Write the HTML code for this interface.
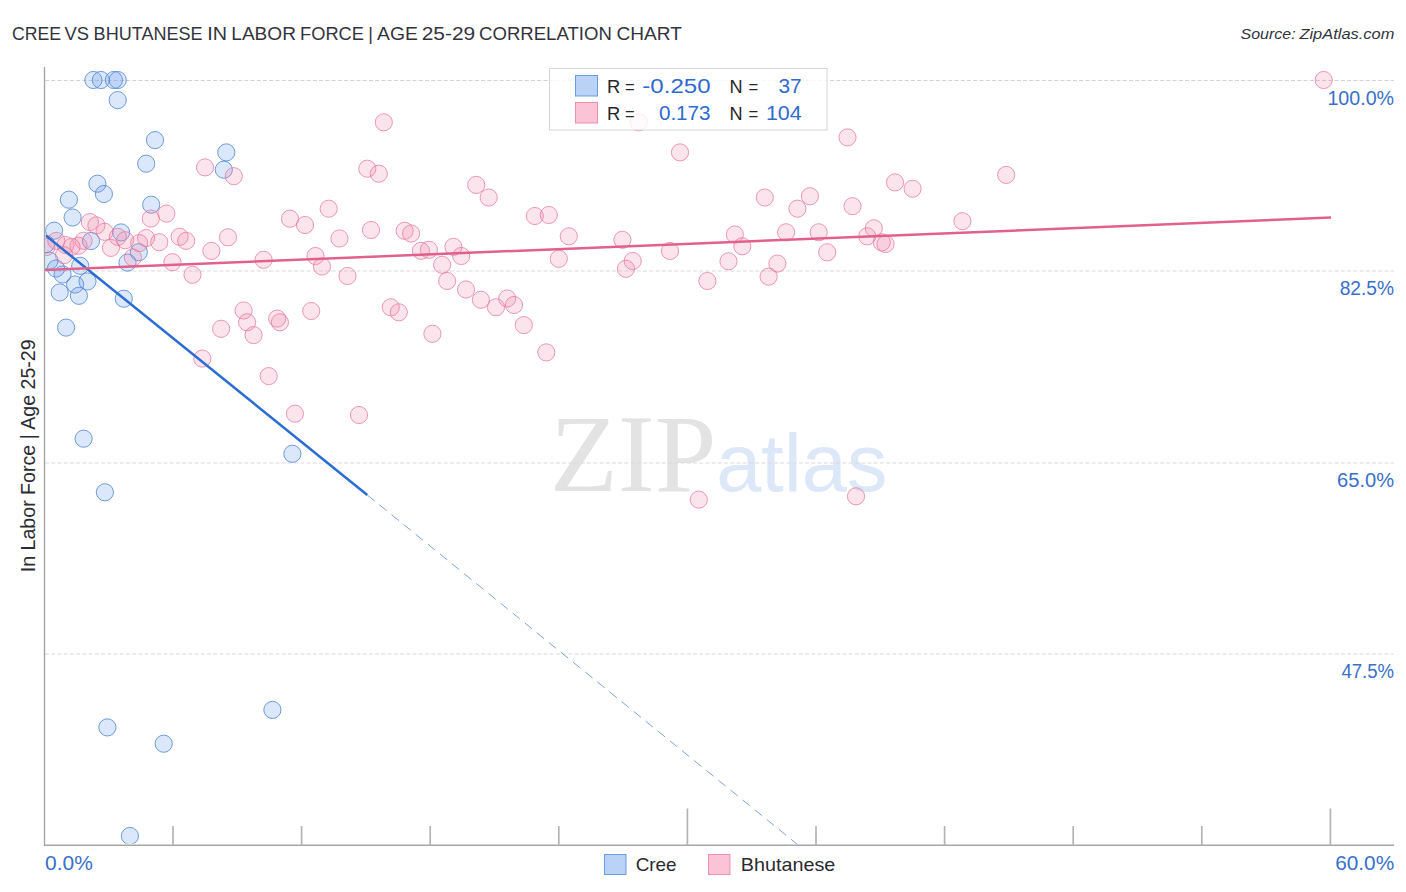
<!DOCTYPE html>
<html><head><meta charset="utf-8"><title>Cree vs Bhutanese In Labor Force | Age 25-29 Correlation Chart</title>
<style>
html,body{margin:0;padding:0;background:#fff;}
body{width:1406px;height:892px;overflow:hidden;font-family:"Liberation Sans",sans-serif;}
svg{display:block;}
text{font-family:"Liberation Sans",sans-serif;}
.ser{font-family:"Liberation Serif",serif;}
.b{fill:rgba(100,150,235,0.23);stroke:#4f84d6;stroke-opacity:.8;stroke-width:1;}
.p{fill:rgba(240,130,170,0.22);stroke:#e5759b;stroke-opacity:.72;stroke-width:1;}
.ax{stroke:#a6a6a6;stroke-width:1.4;fill:none;}
.gr{stroke:#d2d2d2;stroke-width:1;stroke-dasharray:4 2.23;fill:none;}
.yl{fill:#3a6fc9;font-size:19.5px;}
</style></head><body>
<svg width="1406" height="892" viewBox="0 0 1406 892">
<defs><clipPath id="pc"><rect x="45.2" y="60" width="1349" height="783.8"/></clipPath></defs>
<rect width="1406" height="892" fill="#fff"/>
<text x="12.0" y="40" font-size="18" fill="#33333d" textLength="49.1" lengthAdjust="spacingAndGlyphs">CREE</text>
<text x="64.6" y="40" font-size="18" fill="#33333d" textLength="24.5" lengthAdjust="spacingAndGlyphs">VS</text>
<text x="93.6" y="40" font-size="18" fill="#33333d" textLength="109.0" lengthAdjust="spacingAndGlyphs">BHUTANESE</text>
<text x="207.3" y="40" font-size="18" fill="#33333d" textLength="19.8" lengthAdjust="spacingAndGlyphs">IN</text>
<text x="231.3" y="40" font-size="18" fill="#33333d" textLength="64.6" lengthAdjust="spacingAndGlyphs">LABOR</text>
<text x="300.1" y="40" font-size="18" fill="#33333d" textLength="63.8" lengthAdjust="spacingAndGlyphs">FORCE</text>
<text x="368.3" y="39.5" font-size="18" fill="#33333d">|</text>
<text x="377.1" y="40" font-size="18" fill="#33333d" textLength="40.8" lengthAdjust="spacingAndGlyphs">AGE</text>
<text x="421.7" y="40" font-size="18" fill="#33333d" textLength="53.6" lengthAdjust="spacingAndGlyphs">25-29</text>
<text x="479.1" y="40" font-size="18" fill="#33333d" textLength="132.7" lengthAdjust="spacingAndGlyphs">CORRELATION</text>
<text x="616.5" y="40" font-size="18" fill="#33333d" textLength="65.3" lengthAdjust="spacingAndGlyphs">CHART</text>
<text x="1240.6" y="39" font-size="15.3" fill="#33333d" font-style="italic" textLength="55" lengthAdjust="spacingAndGlyphs">Source:</text>
<text x="1299.4" y="39" font-size="15.3" fill="#33333d" font-style="italic" textLength="95" lengthAdjust="spacingAndGlyphs">ZipAtlas.com</text>
<text class="ser" id="wzip" x="550" y="490.8" font-size="111" fill="#e3e3e3">ZIP</text>
<text id="watl" x="716.3" y="490.6" font-size="81" fill="#dce7f8">atlas</text>
<line class="gr" x1="45" x2="1394" y1="80.5" y2="80.5"/>
<line class="gr" x1="45" x2="1394" y1="271.0" y2="271.0" style="stroke:#dadada"/>
<line class="gr" x1="45" x2="1394" y1="463.0" y2="463.0" style="stroke:#dadada"/>
<line class="gr" x1="45" x2="1394" y1="654.0" y2="654.0" style="stroke:#dadada"/>
<g clip-path="url(#pc)">
<circle class="b" cx="93.4" cy="80" r="8.6"/>
<circle class="b" cx="100.9" cy="80" r="8.6"/>
<circle class="b" cx="113.9" cy="80" r="8.6"/>
<circle class="b" cx="117.7" cy="80" r="8.6"/>
<circle class="b" cx="117.7" cy="100.1" r="8.6"/>
<circle class="b" cx="155" cy="140.1" r="8.6"/>
<circle class="b" cx="146.2" cy="163.7" r="8.6"/>
<circle class="b" cx="226.3" cy="152.4" r="8.6"/>
<circle class="b" cx="223.8" cy="169.7" r="8.6"/>
<circle class="b" cx="97.4" cy="183.7" r="8.6"/>
<circle class="b" cx="103.9" cy="194" r="8.6"/>
<circle class="b" cx="68.9" cy="199.7" r="8.6"/>
<circle class="b" cx="72.6" cy="217.5" r="8.6"/>
<circle class="b" cx="151.2" cy="204.7" r="8.6"/>
<circle class="b" cx="54.1" cy="230.7" r="8.6"/>
<circle class="b" cx="121.1" cy="232.4" r="8.6"/>
<circle class="b" cx="91" cy="241" r="8.6"/>
<circle class="b" cx="138.8" cy="252.2" r="8.6"/>
<circle class="b" cx="127.5" cy="262.6" r="8.6"/>
<circle class="b" cx="80.2" cy="265.8" r="8.6"/>
<circle class="b" cx="46" cy="244" r="8.6"/>
<circle class="b" cx="49.5" cy="260.8" r="8.6"/>
<circle class="b" cx="56" cy="268.5" r="8.6"/>
<circle class="b" cx="62.6" cy="274.5" r="8.6"/>
<circle class="b" cx="75.1" cy="284.5" r="8.6"/>
<circle class="b" cx="87.5" cy="281.4" r="8.6"/>
<circle class="b" cx="59.7" cy="292.4" r="8.6"/>
<circle class="b" cx="78.9" cy="295.8" r="8.6"/>
<circle class="b" cx="123.8" cy="298.7" r="8.6"/>
<circle class="b" cx="66.1" cy="327.6" r="8.6"/>
<circle class="b" cx="83.6" cy="438.7" r="8.6"/>
<circle class="b" cx="104.9" cy="492.3" r="8.6"/>
<circle class="b" cx="292.4" cy="453.8" r="8.6"/>
<circle class="b" cx="107.4" cy="727.4" r="8.6"/>
<circle class="b" cx="163.7" cy="743.7" r="8.6"/>
<circle class="b" cx="272.4" cy="709.9" r="8.6"/>
<circle class="b" cx="129.9" cy="836" r="8.6"/>
<circle class="p" cx="205" cy="167.4" r="8.6"/>
<circle class="p" cx="233.8" cy="176.2" r="8.6"/>
<circle class="p" cx="328.7" cy="208.7" r="8.6"/>
<circle class="p" cx="290" cy="218.7" r="8.6"/>
<circle class="p" cx="305" cy="225" r="8.6"/>
<circle class="p" cx="166.4" cy="213.6" r="8.6"/>
<circle class="p" cx="150.8" cy="218.6" r="8.6"/>
<circle class="p" cx="89.9" cy="222" r="8.6"/>
<circle class="p" cx="96.4" cy="225.4" r="8.6"/>
<circle class="p" cx="104.6" cy="231.8" r="8.6"/>
<circle class="p" cx="117.8" cy="236.9" r="8.6"/>
<circle class="p" cx="125.2" cy="240.2" r="8.6"/>
<circle class="p" cx="146.1" cy="238.1" r="8.6"/>
<circle class="p" cx="139.2" cy="243.1" r="8.6"/>
<circle class="p" cx="159.3" cy="242.2" r="8.6"/>
<circle class="p" cx="179.6" cy="236.8" r="8.6"/>
<circle class="p" cx="186.2" cy="240.9" r="8.6"/>
<circle class="p" cx="211.4" cy="250.9" r="8.6"/>
<circle class="p" cx="172.4" cy="262.2" r="8.6"/>
<circle class="p" cx="192.5" cy="274.8" r="8.6"/>
<circle class="p" cx="110.9" cy="247.9" r="8.6"/>
<circle class="p" cx="132.9" cy="257.5" r="8.6"/>
<circle class="p" cx="83.6" cy="240.8" r="8.6"/>
<circle class="p" cx="78.5" cy="245.8" r="8.6"/>
<circle class="p" cx="65.5" cy="245" r="8.6"/>
<circle class="p" cx="56.3" cy="240.9" r="8.6"/>
<circle class="p" cx="46.5" cy="247" r="8.6"/>
<circle class="p" cx="64" cy="255.2" r="8.6"/>
<circle class="p" cx="71.5" cy="247" r="8.6"/>
<circle class="p" cx="228" cy="237.3" r="8.6"/>
<circle class="p" cx="263.6" cy="259.8" r="8.6"/>
<circle class="p" cx="315.5" cy="256" r="8.6"/>
<circle class="p" cx="322" cy="266.5" r="8.6"/>
<circle class="p" cx="339.5" cy="238.5" r="8.6"/>
<circle class="p" cx="347.5" cy="276" r="8.6"/>
<circle class="p" cx="383.8" cy="122.3" r="8.6"/>
<circle class="p" cx="367.3" cy="168.7" r="8.6"/>
<circle class="p" cx="378.8" cy="173.7" r="8.6"/>
<circle class="p" cx="476.2" cy="184.9" r="8.6"/>
<circle class="p" cx="488.7" cy="197.5" r="8.6"/>
<circle class="p" cx="534.8" cy="216" r="8.6"/>
<circle class="p" cx="548.8" cy="215" r="8.6"/>
<circle class="p" cx="371" cy="230" r="8.6"/>
<circle class="p" cx="404.6" cy="230.8" r="8.6"/>
<circle class="p" cx="411.1" cy="233.5" r="8.6"/>
<circle class="p" cx="568.8" cy="236.3" r="8.6"/>
<circle class="p" cx="622.4" cy="239.8" r="8.6"/>
<circle class="p" cx="453.4" cy="246.8" r="8.6"/>
<circle class="p" cx="420.9" cy="250.8" r="8.6"/>
<circle class="p" cx="428.9" cy="249.8" r="8.6"/>
<circle class="p" cx="461.2" cy="256" r="8.6"/>
<circle class="p" cx="670" cy="251" r="8.6"/>
<circle class="p" cx="558.8" cy="258.8" r="8.6"/>
<circle class="p" cx="632.7" cy="261" r="8.6"/>
<circle class="p" cx="625.9" cy="268.8" r="8.6"/>
<circle class="p" cx="442.1" cy="264.8" r="8.6"/>
<circle class="p" cx="447.1" cy="281" r="8.6"/>
<circle class="p" cx="466" cy="289.5" r="8.6"/>
<circle class="p" cx="638.7" cy="122.3" r="8.6"/>
<circle class="p" cx="680" cy="152.4" r="8.6"/>
<circle class="p" cx="847.5" cy="137.4" r="8.6"/>
<circle class="p" cx="1006.2" cy="174.9" r="8.6"/>
<circle class="p" cx="895" cy="182.4" r="8.6"/>
<circle class="p" cx="912.6" cy="188.7" r="8.6"/>
<circle class="p" cx="764.8" cy="197.5" r="8.6"/>
<circle class="p" cx="809.9" cy="196.2" r="8.6"/>
<circle class="p" cx="797.4" cy="208.7" r="8.6"/>
<circle class="p" cx="852.5" cy="206.2" r="8.6"/>
<circle class="p" cx="962.4" cy="221.2" r="8.6"/>
<circle class="p" cx="734.8" cy="234.5" r="8.6"/>
<circle class="p" cx="786.1" cy="232.3" r="8.6"/>
<circle class="p" cx="818.7" cy="232.3" r="8.6"/>
<circle class="p" cx="873.8" cy="228.3" r="8.6"/>
<circle class="p" cx="867.2" cy="236.3" r="8.6"/>
<circle class="p" cx="881.8" cy="242.3" r="8.6"/>
<circle class="p" cx="885.5" cy="244" r="8.6"/>
<circle class="p" cx="742.3" cy="246.3" r="8.6"/>
<circle class="p" cx="827.2" cy="252.3" r="8.6"/>
<circle class="p" cx="728.5" cy="261.3" r="8.6"/>
<circle class="p" cx="777.4" cy="263.6" r="8.6"/>
<circle class="p" cx="768.6" cy="276.6" r="8.6"/>
<circle class="p" cx="707.4" cy="281" r="8.6"/>
<circle class="p" cx="1323.7" cy="80" r="8.6"/>
<circle class="p" cx="243.6" cy="310.5" r="8.6"/>
<circle class="p" cx="247.1" cy="322.3" r="8.6"/>
<circle class="p" cx="221.1" cy="328.8" r="8.6"/>
<circle class="p" cx="253.6" cy="335.1" r="8.6"/>
<circle class="p" cx="277.2" cy="318.6" r="8.6"/>
<circle class="p" cx="279.9" cy="322.3" r="8.6"/>
<circle class="p" cx="311.2" cy="311" r="8.6"/>
<circle class="p" cx="202.3" cy="358.6" r="8.6"/>
<circle class="p" cx="268.7" cy="376.1" r="8.6"/>
<circle class="p" cx="294.9" cy="413.7" r="8.6"/>
<circle class="p" cx="390.8" cy="307.3" r="8.6"/>
<circle class="p" cx="398.8" cy="312.3" r="8.6"/>
<circle class="p" cx="432.4" cy="333.8" r="8.6"/>
<circle class="p" cx="480.9" cy="299.8" r="8.6"/>
<circle class="p" cx="496" cy="307.3" r="8.6"/>
<circle class="p" cx="507.2" cy="298.5" r="8.6"/>
<circle class="p" cx="514" cy="305" r="8.6"/>
<circle class="p" cx="523.8" cy="325.1" r="8.6"/>
<circle class="p" cx="546.3" cy="352.4" r="8.6"/>
<circle class="p" cx="359" cy="415" r="8.6"/>
<circle class="p" cx="698.8" cy="499.6" r="8.6"/>
<circle class="p" cx="856" cy="496.3" r="8.6"/>
</g>
<line x1="46.2" y1="235.9" x2="367.3" y2="495" stroke="#2b6dd1" stroke-width="2.5"/>
<line x1="367.3" y1="495" x2="797.5" y2="844.5" stroke="#6d97da" stroke-width="0.9" stroke-dasharray="9.3 6.3"/>
<line x1="45" y1="270.1" x2="1331" y2="217.6" stroke="#e2608e" stroke-width="2.5"/>
<line class="ax" x1="44.5" x2="44.5" y1="67" y2="846"/>
<line class="ax" x1="44" x2="1394" y1="845.3" y2="845.3"/>
<line x1="173.0" x2="173.0" y1="826" y2="845.3" stroke="#b4b4b4" stroke-width="1.7"/>
<line x1="301.6" x2="301.6" y1="826" y2="845.3" stroke="#b4b4b4" stroke-width="1.7"/>
<line x1="430.2" x2="430.2" y1="826" y2="845.3" stroke="#b4b4b4" stroke-width="1.7"/>
<line x1="558.8" x2="558.8" y1="826" y2="845.3" stroke="#b4b4b4" stroke-width="1.7"/>
<line x1="687.4" x2="687.4" y1="808.5" y2="845.3" stroke="#b4b4b4" stroke-width="1.7"/>
<line x1="816.0" x2="816.0" y1="826" y2="845.3" stroke="#b4b4b4" stroke-width="1.7"/>
<line x1="944.6" x2="944.6" y1="826" y2="845.3" stroke="#b4b4b4" stroke-width="1.7"/>
<line x1="1073.2" x2="1073.2" y1="826" y2="845.3" stroke="#b4b4b4" stroke-width="1.7"/>
<line x1="1201.8" x2="1201.8" y1="826" y2="845.3" stroke="#b4b4b4" stroke-width="1.7"/>
<line x1="1330.4" x2="1330.4" y1="808.5" y2="845.3" stroke="#b4b4b4" stroke-width="1.7"/>
<text class="yl" x="1327.4" y="104.6" textLength="66.7" lengthAdjust="spacingAndGlyphs">100.0%</text>
<text class="yl" x="1339.7" y="295.0" textLength="54.4" lengthAdjust="spacingAndGlyphs">82.5%</text>
<text class="yl" x="1337.0" y="486.6" textLength="57.1" lengthAdjust="spacingAndGlyphs">65.0%</text>
<text class="yl" x="1341.4" y="678.3" textLength="52.7" lengthAdjust="spacingAndGlyphs">47.5%</text>
<text class="yl" x="45.0" y="870" textLength="47.8" lengthAdjust="spacingAndGlyphs">0.0%</text>
<text class="yl" x="1335.2" y="870" textLength="59.0" lengthAdjust="spacingAndGlyphs">60.0%</text>
<text id="ytitle" transform="translate(34.5,572.3) rotate(-90)" font-size="20.3" fill="#2b2b33" textLength="233" lengthAdjust="spacingAndGlyphs">In Labor Force | Age 25-29</text>
<rect x="549.5" y="68.5" width="277.5" height="61.5" fill="rgba(255,255,255,0.82)" stroke="#d6d6d6" stroke-width="1"/>
<rect x="575.5" y="75.5" width="22" height="20.5" fill="#b9d2f6" stroke="#6b9be0" stroke-width="1"/>
<rect x="575.5" y="102.5" width="22" height="20.5" fill="#fbc4d6" stroke="#ee8fae" stroke-width="1"/>
<text x="607.0" y="92.7" font-size="18.2" fill="#26262c" textLength="13.3" lengthAdjust="spacingAndGlyphs">R</text>
<text x="625.1" y="92.7" font-size="18.2" fill="#26262c" textLength="9.6" lengthAdjust="spacingAndGlyphs">=</text>
<text x="642.3" y="92.7" font-size="19.5" fill="#2f6ad0" textLength="68.3" lengthAdjust="spacingAndGlyphs">-0.250</text>
<text x="729.5" y="92.7" font-size="18.2" fill="#26262c" textLength="13.1" lengthAdjust="spacingAndGlyphs">N</text>
<text x="748.6" y="92.7" font-size="18.2" fill="#26262c" textLength="9.8" lengthAdjust="spacingAndGlyphs">=</text>
<text x="778.4" y="92.7" font-size="19.5" fill="#2f6ad0" textLength="23.2" lengthAdjust="spacingAndGlyphs">37</text>
<text x="607.0" y="119.7" font-size="18.2" fill="#26262c" textLength="13.3" lengthAdjust="spacingAndGlyphs">R</text>
<text x="625.1" y="119.7" font-size="18.2" fill="#26262c" textLength="9.6" lengthAdjust="spacingAndGlyphs">=</text>
<text x="658.9" y="119.7" font-size="19.5" fill="#2f6ad0" textLength="51.7" lengthAdjust="spacingAndGlyphs">0.173</text>
<text x="729.5" y="119.7" font-size="18.2" fill="#26262c" textLength="13.1" lengthAdjust="spacingAndGlyphs">N</text>
<text x="748.6" y="119.7" font-size="18.2" fill="#26262c" textLength="9.8" lengthAdjust="spacingAndGlyphs">=</text>
<text x="765.9" y="119.7" font-size="19.5" fill="#2f6ad0" textLength="35.7" lengthAdjust="spacingAndGlyphs">104</text>
<rect x="604.5" y="854.5" width="21.5" height="20" fill="#b9d2f6" stroke="#6b9be0" stroke-width="1"/>
<text x="635.7" y="870.8" font-size="19" fill="#2a2a30" textLength="40.9" lengthAdjust="spacingAndGlyphs">Cree</text>
<rect x="708.5" y="854.5" width="21.5" height="20" fill="#fbc4d6" stroke="#ee8fae" stroke-width="1"/>
<text x="740.7" y="870.8" font-size="19" fill="#2a2a30" textLength="94.6" lengthAdjust="spacingAndGlyphs">Bhutanese</text>
</svg></body></html>
